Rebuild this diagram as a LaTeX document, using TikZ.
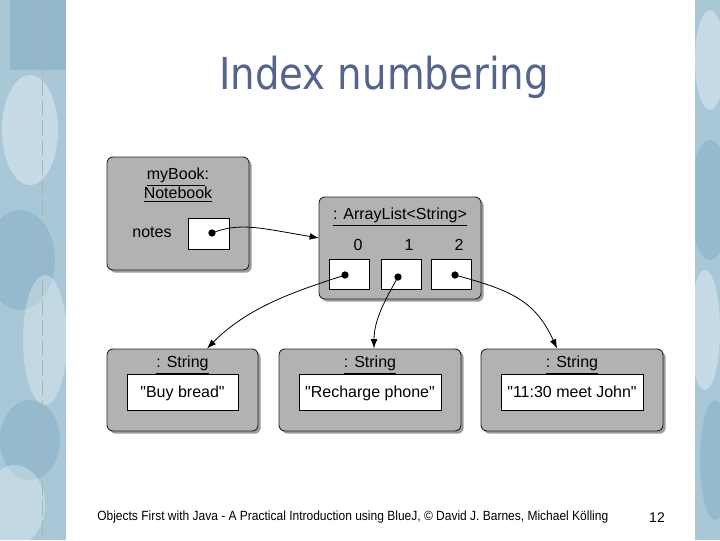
\documentclass[tikz,border=0pt]{standalone}
\usepackage{fontspec}
\setmainfont{Liberation Sans}[Ligatures=TeXOff]
\newfontfamily\titlefont[FakeStretch=0.88]{DejaVu Sans}
\newfontfamily\footfont[FakeStretch=0.9]{Liberation Sans}
\usetikzlibrary{shadows,arrows.meta}
\definecolor{boxgray}{RGB}{178,178,178}
\definecolor{titleblue}{RGB}{84,100,140}
\definecolor{stripblue}{RGB}{168,200,216}
\definecolor{stripdark}{RGB}{110,155,182}
\tikzset{
  objbox/.style={draw=black!85, line width=0.7pt, fill=boxgray, rounded corners=4.5pt,
    drop shadow={shadow xshift=2pt, shadow yshift=-2pt, opacity=0.55, fill=black!70},
    inner sep=0pt},
  slotbox/.style={draw=black, line width=0.7pt, fill=white, inner sep=0pt},
  lbl/.style={font=\fontsize{12}{14}\selectfont, inner sep=0pt, text height=9pt, text depth=2.5pt},
  ptr/.style={line width=0.6pt, -{Latex[length=7pt,width=5pt]}},
  dotmark/.style={circle, fill=black, inner sep=0pt, minimum size=5.5pt}
}
\begin{document}
\begin{tikzpicture}[x=0.75pt,y=-0.75pt]
\useasboundingbox (0,0) rectangle (720,540);
% background strips
\fill[stripblue] (0,0) rectangle (66,540);
\fill[stripblue] (695,0) rectangle (720,540);
\begin{scope}
\clip (0,0) rectangle (66,540);
\fill[stripdark, opacity=0.35] (10,0) rectangle (66,70);
\fill[white, opacity=0.35] (30,130) ellipse (28 and 55);
\fill[stripdark, opacity=0.3] (20,260) ellipse (35 and 50);
\fill[white, opacity=0.3] (45,340) ellipse (22 and 65);
\fill[stripdark, opacity=0.3] (30,440) ellipse (30 and 40);
\fill[white, opacity=0.3] (15,505) ellipse (30 and 40);
\draw[black!30, line width=0.4pt, dash pattern=on 12pt off 3pt] (42,0) -- (42,540);
\end{scope}
\begin{scope}
\clip (695,0) rectangle (720,540);
\fill[white, opacity=0.35] (710,60) ellipse (15 and 50);
\fill[stripdark, opacity=0.3] (710,200) ellipse (20 and 60);
\fill[white, opacity=0.35] (705,330) ellipse (15 and 60);
\fill[stripdark, opacity=0.3] (715,460) ellipse (15 and 60);
\end{scope}
\fill[white] (66,0) rectangle (695,540);

% title
\node[text=titleblue, font=\titlefont\fontsize{33}{38}\selectfont, inner sep=0pt] (title) at (384,77) {Index numbering};

% myBook
\node[objbox, minimum width=106.5pt, minimum height=84.75pt] (book) at (178,213.5) {};
\node[lbl] (bookname) at (178,175.5) {\underline{myBook}:};
\node[lbl] (booktype) at (178,194.5) {\underline{Notebook}};
\node[lbl] (noteslbl) at (152,233.5) {notes};
\node[slotbox, minimum width=30.75pt, minimum height=23.25pt] (notesfield) at (208.5,233.5) {};
\node[dotmark] (d0) at (212,233) {};

% ArrayList
\node[objbox, minimum width=121.5pt, minimum height=76.5pt] (list) at (400,248) {};
\node[lbl] (listname) at (400,215.5) {\underline{: ArrayList<String>}};
\node[lbl] (i0) at (358,246.5) {0};
\node[lbl] (i1) at (409,246.5) {1};
\node[lbl] (i2) at (459,246.5) {2};
\node[slotbox, minimum width=30pt, minimum height=22.5pt] (s0) at (349.5,274) {};
\node[slotbox, minimum width=30pt, minimum height=22.5pt] (s1) at (401,274) {};
\node[slotbox, minimum width=30pt, minimum height=22.5pt] (s2) at (451,274) {};
\node[dotmark] (d1) at (345,275) {};
\node[dotmark] (d2) at (398,277) {};
\node[dotmark] (d3) at (455,275) {};

% Strings
\node[objbox, minimum width=113.25pt, minimum height=61.5pt] (str1) at (182.5,390) {};
\node[objbox, minimum width=136.5pt, minimum height=61.5pt] (str2) at (370,390) {};
\node[objbox, minimum width=136.5pt, minimum height=61.5pt] (str3) at (572,390) {};
\node[lbl] (t1) at (182.5,363.5) {\underline{: String}};
\node[lbl] (t2) at (370,363.5) {\underline{: String}};
\node[lbl] (t3) at (572,363.5) {\underline{: String}};
\node[slotbox, minimum width=83.25pt, minimum height=27pt] (v1) at (182.5,392) {};
\node[slotbox, minimum width=106.5pt, minimum height=27pt] (v2) at (370,392) {};
\node[slotbox, minimum width=106.5pt, minimum height=27pt] (v3) at (572,392) {};
\node[lbl] (v1t) at (182.5,393.5) {"Buy bread"};
\node[lbl] (v2t) at (370,393.5) {"Recharge phone"};
\node[lbl] (v3t) at (572,393.5) {"11:30 meet John"};

% pointers
\coordinate (a0) at (319,238);
\draw[ptr] (d0.center) .. controls (240,222) and (260,228) .. (a0);
\draw[ptr] (d1.center) .. controls (300,290) and (250,305) .. (str1.north west -| 207,349);
\draw[ptr] (d2.center) .. controls (385,300) and (374,320) .. (str2.north -| 374,349);
\draw[ptr] (d3.center) .. controls (510,290) and (535,300) .. (str3.north -| 557,349);

% footer
\node[font=\footfont\fontsize{10}{12}\selectfont, anchor=west, inner sep=0pt] (foot) at (97,517) {Objects First with Java - A Practical Introduction using BlueJ, © David J. Barnes, Michael Kölling};
\node[font=\fontsize{10.5}{12}\selectfont, inner sep=0pt] (page) at (657,518) {12};
\end{tikzpicture}
\end{document}
